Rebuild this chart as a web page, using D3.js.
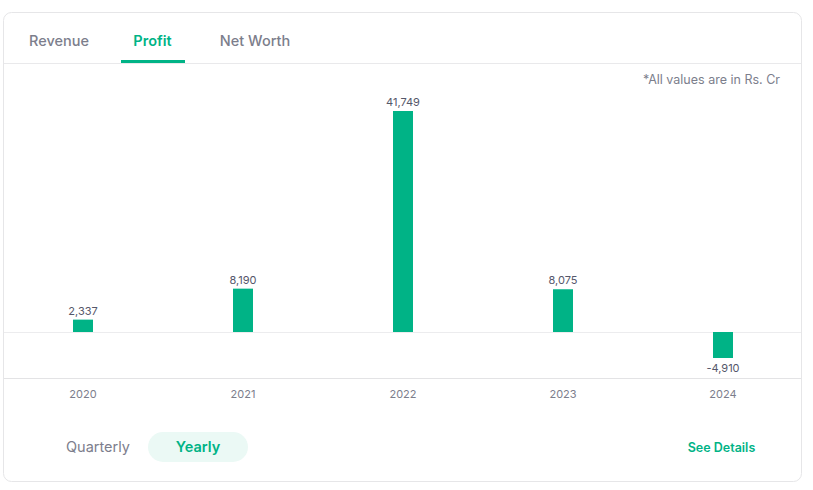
<!DOCTYPE html>
<html>
<head>
<meta charset="utf-8">
<script src="https://cdn.jsdelivr.net/npm/d3@7"></script>
<style>
  body { margin: 0; background: #fff; font-family: Inter, "Noto Sans", sans-serif; }
</style>
</head>
<body>
<svg id="chart" width="813" height="490"></svg>
<script>
const years = ['2020', '2021', '2022', '2023', '2024'];
const profit = [2337, 8190, 41749, 8075, -4910];
const tabs = ['Revenue', 'Profit', 'Net Worth'];

const GREEN = '#00b386';
const svg = d3.select('#chart');

// card
svg.append('rect')
  .attr('x', 3.5).attr('y', 12.5)
  .attr('width', 798).attr('height', 469)
  .attr('rx', 8)
  .attr('fill', '#fff')
  .attr('stroke', '#e6e6e8');

// tabs
const tabX = [59, 152.5, 255];
svg.append('line')
  .attr('x1', 4).attr('x2', 801)
  .attr('y1', 63.5).attr('y2', 63.5)
  .attr('stroke', '#e9e9eb');
svg.selectAll('.tab')
  .data(tabs)
  .join('text')
  .attr('class', 'tab')
  .attr('x', (d, i) => tabX[i])
  .attr('y', 46)
  .attr('text-anchor', 'middle')
  .attr('font-size', 14.5)
  .attr('font-weight', d => (d === 'Profit' ? 600 : 500))
  .attr('fill', d => (d === 'Profit' ? GREEN : '#7c7e8c'))
  .text(d => d);
svg.append('rect')
  .attr('x', 121).attr('y', 60)
  .attr('width', 64).attr('height', 3)
  .attr('fill', GREEN);

svg.append('text')
  .attr('x', 780).attr('y', 84)
  .attr('text-anchor', 'end')
  .attr('font-size', 12.5)
  .attr('fill', '#7c7e8c')
  .text('*All values are in Rs. Cr');

// chart
const x = d3.scaleBand()
  .domain(years)
  .range([3, 803]);

const y = d3.scaleLinear()
  .domain([0, 41749])
  .range([332, 111]);

svg.append('line')
  .attr('x1', 4).attr('x2', 801)
  .attr('y1', y(0) + 0.5).attr('y2', y(0) + 0.5)
  .attr('stroke', '#ececee');

svg.append('line')
  .attr('x1', 4).attr('x2', 801)
  .attr('y1', 378.5).attr('y2', 378.5)
  .attr('stroke', '#e3e3e5');

const barW = 20;
svg.selectAll('.bar')
  .data(profit)
  .join('rect')
  .attr('class', 'bar')
  .attr('x', (d, i) => x(years[i]) + x.bandwidth() / 2 - barW / 2)
  .attr('y', d => y(Math.max(0, d)))
  .attr('width', barW)
  .attr('height', d => Math.abs(y(d) - y(0)))
  .attr('fill', GREEN);

svg.selectAll('.val')
  .data(profit)
  .join('text')
  .attr('class', 'val')
  .attr('x', (d, i) => x(years[i]) + x.bandwidth() / 2)
  .attr('y', d => (d >= 0 ? y(d) - 5 : y(d) + 14))
  .attr('text-anchor', 'middle')
  .attr('font-size', 11)
  .attr('fill', '#55576a')
  .text(d => d3.format(',')(d).replace('−', '-'));

const xAxis = svg.append('g')
  .attr('transform', 'translate(0,378)')
  .call(d3.axisBottom(x).tickSize(0).tickPadding(12));
xAxis.select('.domain').remove();
xAxis.selectAll('text')
  .attr('font-family', 'Inter, "Noto Sans", sans-serif')
  .attr('font-size', 11)
  .attr('fill', '#7c7e8c');

// footer
svg.append('text')
  .attr('x', 98).attr('y', 452)
  .attr('text-anchor', 'middle')
  .attr('font-size', 14.5)
  .attr('fill', '#7c7e8c')
  .text('Quarterly');
svg.append('rect')
  .attr('x', 148).attr('y', 432)
  .attr('width', 100).attr('height', 30)
  .attr('rx', 15)
  .attr('fill', '#ebf9f5');
svg.append('text')
  .attr('x', 198).attr('y', 452)
  .attr('text-anchor', 'middle')
  .attr('font-size', 14.5)
  .attr('font-weight', 600)
  .attr('fill', GREEN)
  .text('Yearly');
svg.append('text')
  .attr('x', 721.5).attr('y', 452)
  .attr('text-anchor', 'middle')
  .attr('font-size', 12.5)
  .attr('font-weight', 600)
  .attr('fill', GREEN)
  .text('See Details');
</script>
</body>
</html>
